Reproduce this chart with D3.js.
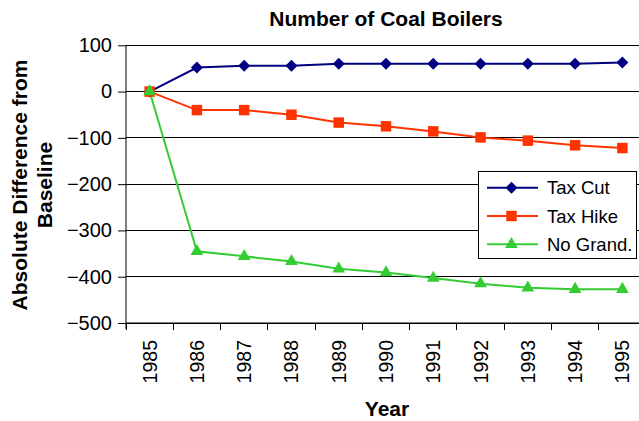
<!DOCTYPE html>
<html><head><meta charset="utf-8">
<script src="https://cdn.jsdelivr.net/npm/d3@7"></script>
<style>body{margin:0;background:#fff}svg{display:block}text{font-family:Arial,"Liberation Sans",sans-serif}</style>
</head><body>
<svg id="c" width="639" height="421"></svg>
<script>
const years = ["1985","1986","1987","1988","1989","1990","1991","1992","1993","1994","1995"];
const taxCut = [0,52,56,56,60,60,60,60,60,60,63];
const taxHike = [0,-40,-40,-50,-67,-75,-86,-99,-106,-116,-122];
const noGrand = [0,-345,-356,-367,-383,-391,-403,-415,-424,-427,-427];
const yTicks = [100,0,-100,-200,-300,-400,-500];
const seriesNames = ["Tax Cut","Tax Hike","No Grand."];
const colors = ["#000080","#FF3300","#33CC33"];
const diamond = {draw(ctx, size){const r = Math.sqrt(size/2); ctx.moveTo(0,-r); ctx.lineTo(r,0); ctx.lineTo(0,r); ctx.lineTo(-r,0); ctx.closePath();}};
const symbols = [diamond, d3.symbolSquare, d3.symbolTriangle];
const symSizes = [72, 110, 70];

const svg = d3.select("#c");
const L = 126, R = 646, T = 45.3, B = 323;
const x = d3.scaleBand().domain(years).range([L, R]);
const y = d3.scaleLinear().domain([-500, 100]).range([B, T]);
const FONT = "Arial, Liberation Sans, sans-serif";

// gridlines
svg.append("g").selectAll("line").data(yTicks).join("line")
  .attr("x1", L).attr("x2", R).attr("y1", d => y(d)).attr("y2", d => y(d))
  .attr("stroke", "#000").attr("stroke-width", 1).attr("shape-rendering","crispEdges");

// y axis
const ya = svg.append("g").attr("transform", `translate(${L},0)`)
  .call(d3.axisLeft(y).tickValues(yTicks).tickSize(8).tickPadding(6).tickFormat(d3.format("d")));
ya.select(".domain").attr("stroke","#000").attr("d", `M0,${T}V${B+6}`);
ya.selectAll("text").attr("font-size", 20).attr("fill","#000").attr("font-family", FONT);

// x axis
const xa = svg.append("g").attr("transform", `translate(0,${B})`)
  .call(d3.axisBottom(x).tickSize(0).tickPadding(0));
xa.select(".domain").attr("stroke","#000").attr("d", `M${L},0H${R}`);
xa.selectAll(".tick text").attr("font-size", 19.5).attr("fill","#000")
  .attr("font-family", FONT)
  .attr("transform","rotate(-90)").attr("text-anchor","end")
  .attr("x", -17).attr("y", 0).attr("dy","0.36em");
// category boundary ticks
svg.append("g").selectAll("line").data(years).join("line")
  .attr("x1", d => x(d)).attr("x2", d => x(d)).attr("y1", B).attr("y2", B+7)
  .attr("stroke","#000").attr("shape-rendering","crispEdges");

const data = [taxCut, taxHike, noGrand];
const line = d3.line().x((d,i) => x(years[i]) + x.bandwidth()/2).y(d => y(d));
data.forEach((s, k) => {
  svg.append("path").datum(s).attr("d", line).attr("fill","none")
    .attr("stroke", colors[k]).attr("stroke-width", 2);
});
data.forEach((s, k) => {
  svg.append("g").selectAll("path").data(s).join("path")
    .attr("d", d3.symbol().type(symbols[k]).size(symSizes[k]))
    .attr("transform", (d,i) => `translate(${x(years[i]) + x.bandwidth()/2},${y(d)})`)
    .attr("fill", colors[k]);
});

// titles
svg.append("text").attr("x", 386).attr("y", 26).attr("text-anchor","middle")
  .attr("font-size", 21).attr("font-weight","bold").text("Number of Coal Boilers");
svg.append("text").attr("x", 387).attr("y", 416).attr("text-anchor","middle")
  .attr("font-size", 21).attr("font-weight","bold").text("Year");
const yt = svg.append("text").attr("transform", "translate(27,185) rotate(-90)")
  .attr("text-anchor","middle").attr("font-size", 21).attr("font-weight","bold");
yt.append("tspan").attr("x",0).attr("y",0).text("Absolute Difference from");
yt.append("tspan").attr("x",0).attr("y",25).text("Baseline");

// legend
const lg = svg.append("g");
lg.append("rect").attr("x", 478.5).attr("y", 171.5).attr("width", 158).attr("height", 87)
  .attr("fill","#fff").attr("stroke","#000");
seriesNames.forEach((n, k) => {
  const cy = 187.7 + k*28.3;
  lg.append("line").attr("x1", 487).attr("x2", 538).attr("y1", cy).attr("y2", cy)
    .attr("stroke", colors[k]).attr("stroke-width", 2);
  lg.append("path").attr("d", d3.symbol().type(symbols[k]).size(symSizes[k]))
    .attr("transform", `translate(511.5,${cy})`).attr("fill", colors[k]);
  lg.append("text").attr("x", 547).attr("y", cy).attr("dy","0.36em")
    .attr("font-size", 18.5).text(n);
});
</script>
</body></html>
